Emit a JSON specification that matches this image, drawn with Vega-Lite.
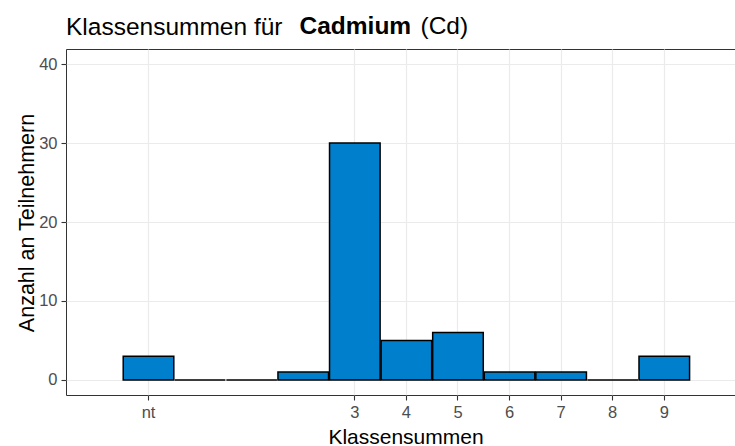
{
  "$schema": "https://vega.github.io/schema/vega-lite/v6.json",
  "width": 670,
  "height": 346,
  "autosize": {"type": "none"},
  "padding": {"left": 66, "top": 49, "right": 0, "bottom": 51},
  "background": "white",
  "title": {
    "text": "Klassensummen für",
    "anchor": "start",
    "frame": "group",
    "font": "Liberation Sans",
    "fontSize": 24.5,
    "fontWeight": "normal",
    "color": "#000000",
    "baseline": "alphabetic",
    "offset": 0,
    "dy": 46
  },
  "data": {
    "values": [
      {"klasse": -1, "anzahl": 3},
      {"klasse": 0, "anzahl": 0},
      {"klasse": 1, "anzahl": 0},
      {"klasse": 2, "anzahl": 1},
      {"klasse": 3, "anzahl": 30},
      {"klasse": 4, "anzahl": 5},
      {"klasse": 5, "anzahl": 6},
      {"klasse": 6, "anzahl": 1},
      {"klasse": 7, "anzahl": 1},
      {"klasse": 8, "anzahl": 0},
      {"klasse": 9, "anzahl": 3}
    ]
  },
  "layer": [
    {
      "mark": {"type": "bar", "fill": "#0080CC", "stroke": "#000000", "strokeWidth": 1.5, "clip": true},
      "encoding": {
        "x": {
          "field": "klasse",
          "type": "quantitative",
          "bin": {"step": 1, "extent": [-1.5, 9.5], "nice": false},
          "scale": {"domain": [-2.59, 10.4], "nice": false, "zero": false},
          "axis": {
            "orient": "bottom",
            "title": "Klassensummen",
            "values": [-1, 3, 4, 5, 6, 7, 8, 9],
            "labelExpr": "datum.value == -1 ? 'nt' : datum.label",
            "format": "d",
            "grid": true,
            "domain": false,
            "labelPadding": 4,
            "titleX": 339.5,
            "titleY": 48,
            "titleAlign": "center",
            "titleBaseline": "alphabetic"
          }
        },
        "y": {
          "aggregate": "sum",
          "field": "anzahl",
          "type": "quantitative",
          "scale": {"domain": [-1.9, 41.9], "nice": false, "zero": false},
          "axis": {
            "orient": "left",
            "title": "Anzahl an Teilnehmern",
            "values": [0, 10, 20, 30, 40],
            "grid": true,
            "domain": false,
            "labelPadding": 4,
            "titleFontSize": 21.5,
            "titleX": -33,
            "titleY": 173.5,
            "titleAngle": -90,
            "titleAlign": "center",
            "titleBaseline": "alphabetic"
          }
        }
      }
    },
    {
      "mark": {"type": "bar", "opacity": 0, "strokeOpacity": 0, "fillOpacity": 0},
      "encoding": {
        "x": {
          "field": "klasse",
          "type": "quantitative",
          "bin": {"step": 1, "extent": [-1.5, 9.5], "nice": false},
          "axis": {
            "orient": "top",
            "title": "Cadmium",
            "grid": false,
            "domain": false,
            "ticks": false,
            "labels": false,
            "titleFontWeight": "bold",
            "titleFontSize": 24.5,
            "titleColor": "#000000",
            "titleX": 233,
            "titleY": -15.5,
            "titleAlign": "left",
            "titleBaseline": "alphabetic"
          }
        },
        "y": {
          "aggregate": "sum",
          "field": "anzahl",
          "type": "quantitative",
          "axis": {
            "orient": "right",
            "title": "(Cd)",
            "grid": false,
            "domain": false,
            "ticks": false,
            "labels": false,
            "titleAngle": 0,
            "titleFontWeight": "normal",
            "titleFontSize": 24.5,
            "titleColor": "#000000",
            "titleX": -316,
            "titleY": -15.5,
            "titleAlign": "left",
            "titleBaseline": "alphabetic"
          }
        }
      }
    }
  ],
  "resolve": {"axis": {"x": "independent", "y": "independent"}},
  "config": {
    "font": "Liberation Sans",
    "view": {"stroke": "#333333", "strokeWidth": 1},
    "axis": {
      "gridColor": "#EBEBEB",
      "gridWidth": 1.2,
      "tickColor": "#333333",
      "tickSize": 5,
      "tickWidth": 1.1,
      "labelColor": "#4D4D4D",
      "labelFont": "Liberation Sans",
      "labelFontSize": 16.5,
      "titleFont": "Liberation Sans",
      "titleFontSize": 21,
      "titleFontWeight": "normal",
      "titleColor": "#000000"
    }
  }
}
